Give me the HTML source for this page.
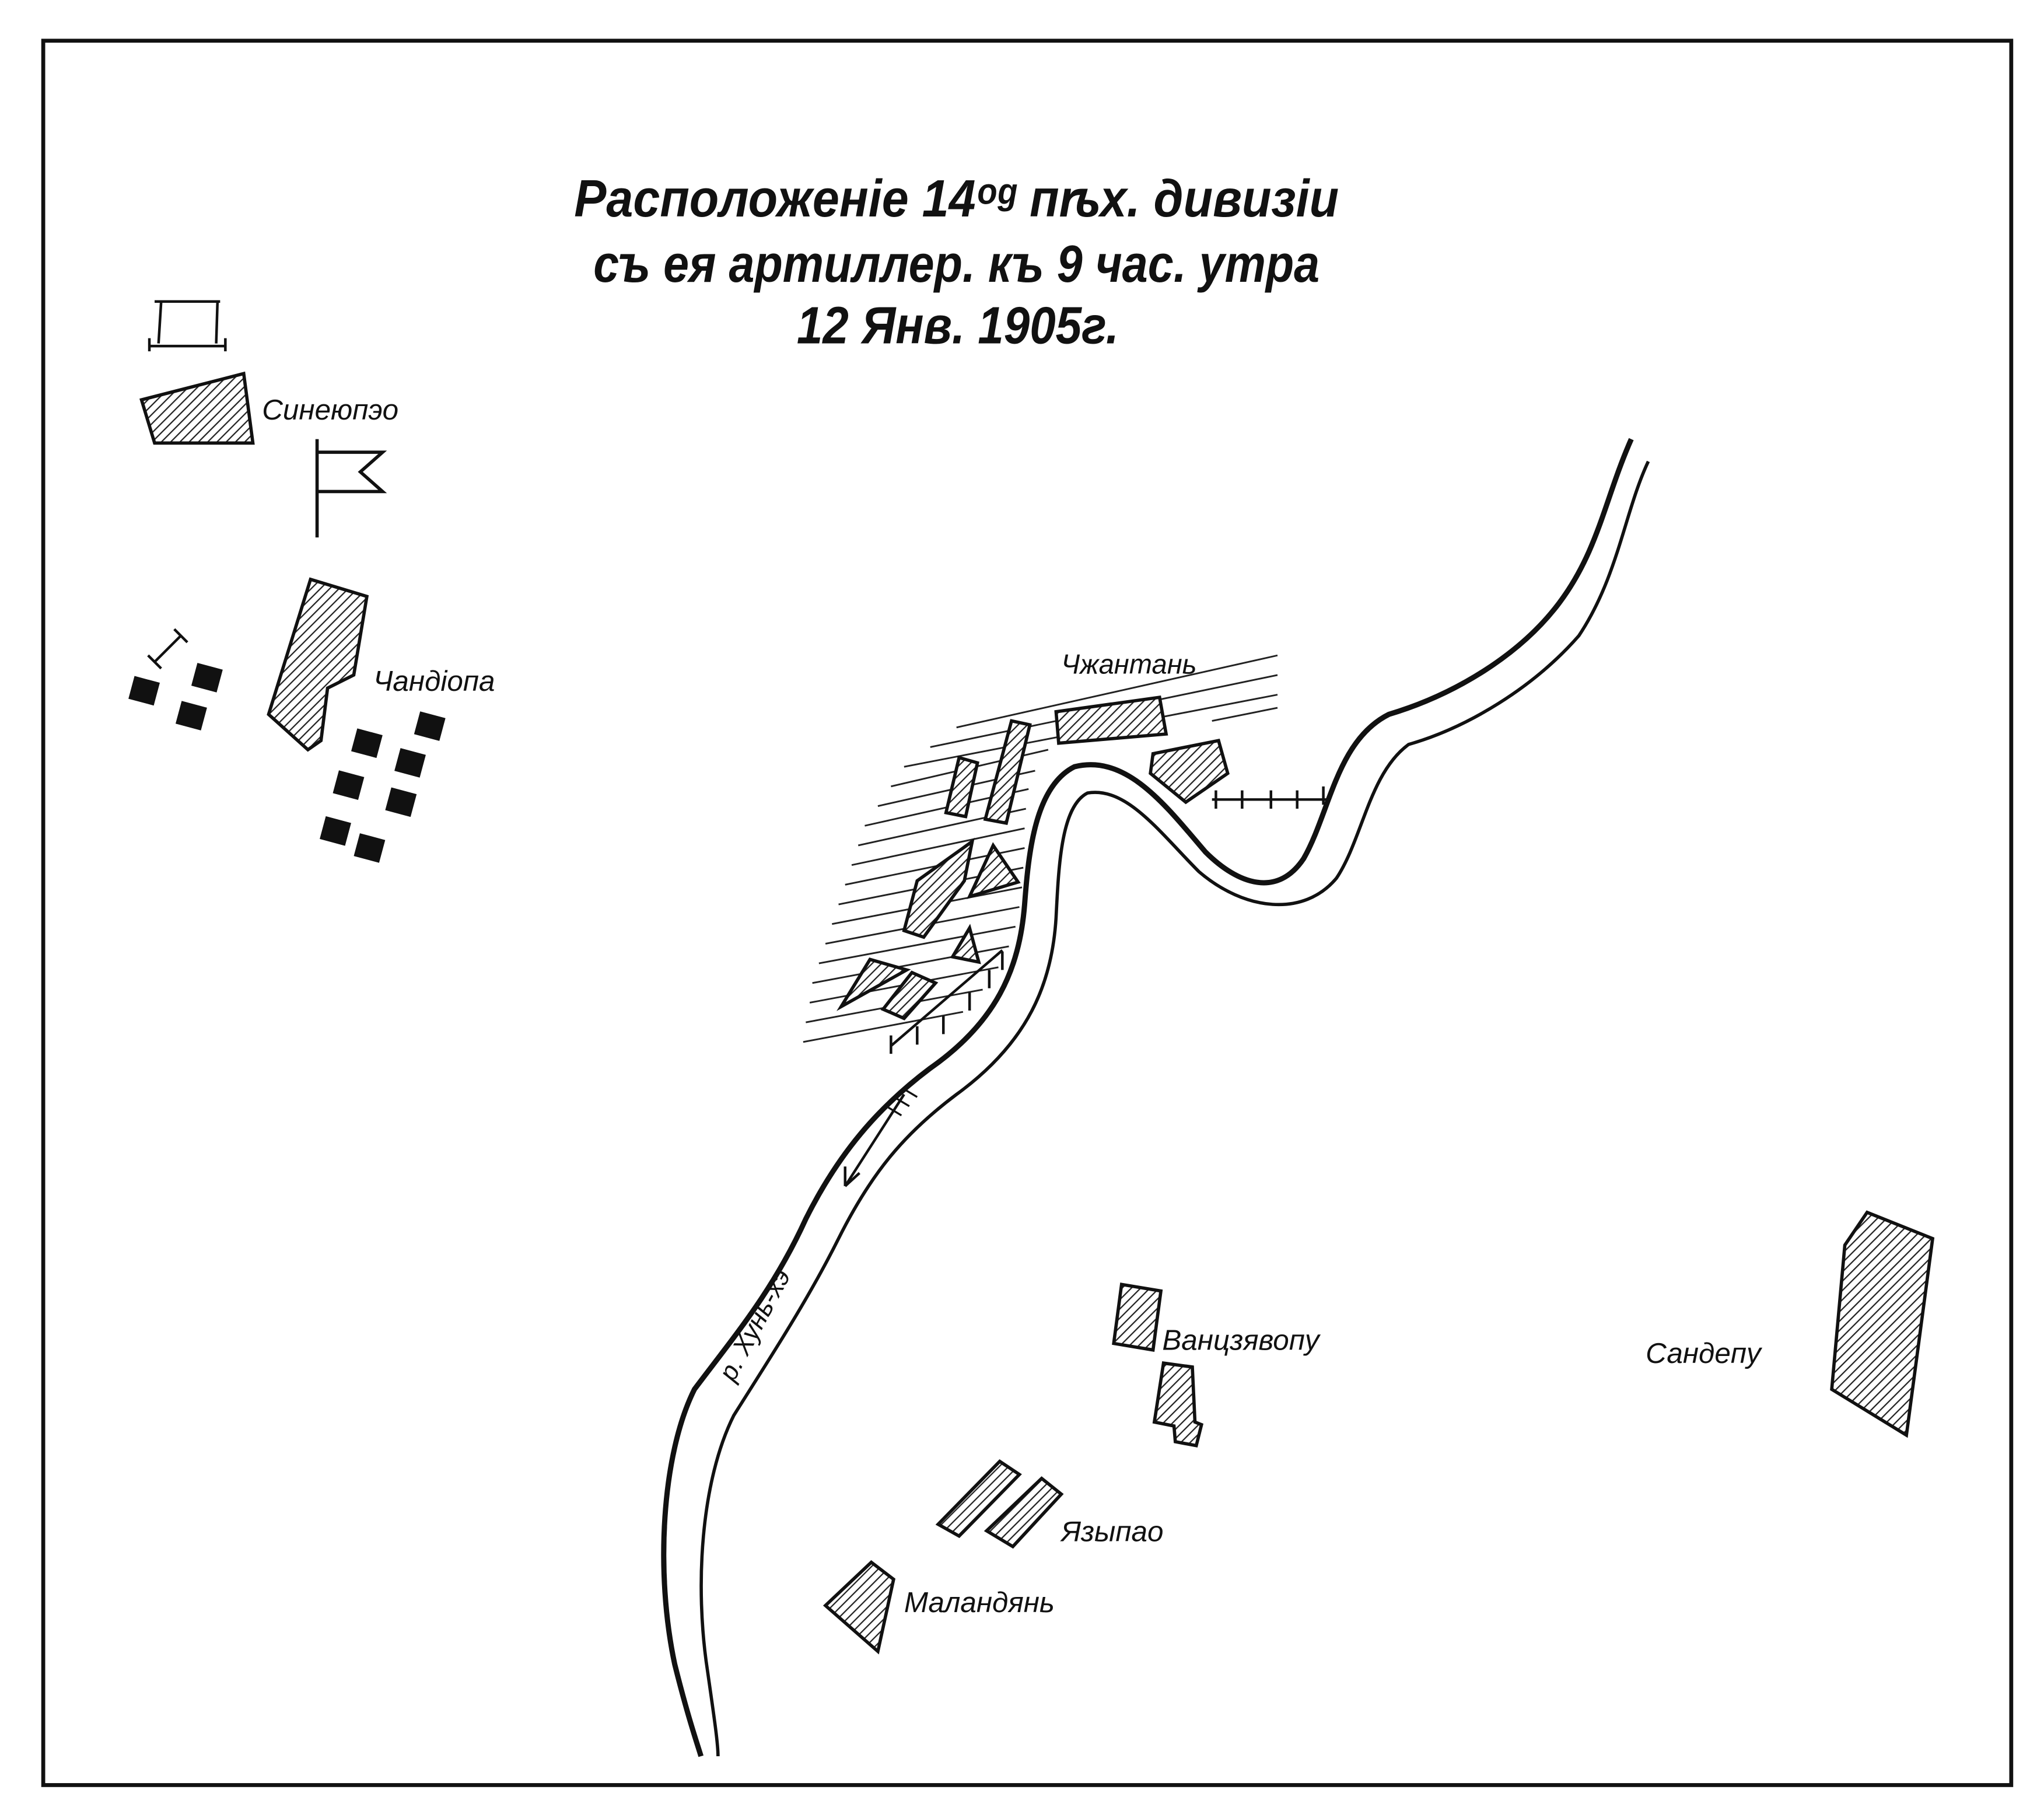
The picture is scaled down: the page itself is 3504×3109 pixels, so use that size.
<!DOCTYPE html>
<html><head><meta charset="utf-8"><style>
html,body{margin:0;padding:0;background:#fff}
svg{display:block}
text{font-family:"Liberation Sans",sans-serif;font-style:italic;fill:#111}
</style></head><body>
<svg width="3504" height="3109" viewBox="0 0 1560 1384" xmlns="http://www.w3.org/2000/svg">
<defs>
<pattern id="h" width="5" height="5" patternUnits="userSpaceOnUse" patternTransform="rotate(45)">
<rect width="5" height="5" fill="#fff"/><line x1="0" y1="0" x2="0" y2="5" stroke="#222" stroke-width="2"/>
</pattern>
</defs>
<rect x="0" y="0" width="1560" height="1384" fill="#fff"/>
<rect x="33" y="31" width="1502" height="1331" fill="none" stroke="#111" stroke-width="3"/>

<g text-anchor="middle" font-weight="bold">
<text x="730" y="165" font-size="40" transform="translate(730,0) scale(0.92,1) translate(-730,0)">Расположеніе 14ᵒᵍ пѣх. дивизіи</text>
<text x="730" y="215" font-size="40" transform="translate(730,0) scale(0.88,1) translate(-730,0)">съ ея артиллер. къ 9 час. утра</text>
<text x="731" y="262" font-size="40" transform="translate(731,0) scale(0.89,1) translate(-731,0)">12 Янв. 1905г.</text>
</g>

<path d="M118 230 H168 M123 230 L121 262 M166 230 L165 262 M114 264 H172 M114 258 V268 M172 258 V268" stroke="#111" stroke-width="2" fill="none"/>
<polygon points="108,305 186,285 193,338 118,338" fill="url(#h)" stroke="#111" stroke-width="2.5"/>
<text x="200" y="320" font-size="22">Синеюпэо</text>
<path d="M242 335 V410 M242 345 H292 L275 360 L292 375 H242" stroke="#111" stroke-width="2.5" fill="none"/>

<polygon points="237,442 280,455 270,515 250,525 245,565 235,572 205,545" fill="url(#h)" stroke="#111" stroke-width="2.5"/>
<text x="285" y="527" font-size="22">Чандіопа</text>

<g fill="#111">
<rect x="100" y="518" width="20" height="18" transform="rotate(15 110 527)"/>
<rect x="148" y="508" width="20" height="18" transform="rotate(15 158 517)"/>
<rect x="136" y="537" width="20" height="18" transform="rotate(15 146 546)"/>
<rect x="270" y="558" width="20" height="18" transform="rotate(15 280 567)"/>
<rect x="318" y="545" width="20" height="18" transform="rotate(15 328 554)"/>
<rect x="303" y="573" width="20" height="18" transform="rotate(15 313 582)"/>
<rect x="256" y="590" width="20" height="18" transform="rotate(15 266 599)"/>
<rect x="296" y="603" width="20" height="18" transform="rotate(15 306 612)"/>
<rect x="246" y="625" width="20" height="18" transform="rotate(15 256 634)"/>
<rect x="272" y="638" width="20" height="18" transform="rotate(15 282 647)"/>
</g>
<path d="M118 505 L138 485 M113 500 L123 510 M133 480 L143 490" stroke="#111" stroke-width="2"/>

<path d="M1245 335 C1225 380 1220 420 1190 460 C1160 500 1110 530 1060 545 C1020 565 1015 620 995 655 C975 685 945 675 920 650 C890 615 860 575 820 585 C790 600 785 650 782 690 C778 740 760 780 710 815 C670 845 640 880 615 930 C590 985 560 1020 530 1060 C505 1110 500 1200 515 1270 C525 1310 532 1330 535 1340" fill="none" stroke="#111" stroke-width="4"/>
<path d="M1258 352 C1240 390 1235 440 1205 485 C1170 525 1120 555 1075 568 C1045 590 1040 640 1020 670 C995 700 950 695 915 665 C885 635 860 600 830 605 C810 615 808 660 806 700 C803 750 785 795 730 835 C690 865 665 895 640 945 C615 995 585 1040 560 1080 C535 1130 530 1210 540 1275 C545 1310 548 1330 548 1340" fill="none" stroke="#111" stroke-width="2.5"/>
<text x="0" y="0" font-size="20" transform="translate(560,1055) rotate(-62)">р. Хунь-хэ</text>
<path d="M690 835 L645 905 M645 905 L645 890 M645 905 L656 895" stroke="#111" stroke-width="2" fill="none"/>
<path d="M678 845 l10 6 M684 838 l10 6 M690 831 l10 6" stroke="#111" stroke-width="1.5"/>

<g stroke="#222" stroke-width="1.3">
<line x1="730" y1="555" x2="975" y2="500"/><line x1="710" y1="570" x2="975" y2="515"/>
<line x1="690" y1="585" x2="975" y2="530"/><line x1="680" y1="600" x2="800" y2="572"/>
<line x1="670" y1="615" x2="790" y2="588"/><line x1="660" y1="630" x2="785" y2="602"/>
<line x1="655" y1="645" x2="783" y2="617"/><line x1="650" y1="660" x2="782" y2="632"/>
<line x1="645" y1="675" x2="782" y2="647"/><line x1="640" y1="690" x2="781" y2="662"/>
<line x1="635" y1="705" x2="780" y2="677"/><line x1="630" y1="720" x2="778" y2="692"/>
<line x1="625" y1="735" x2="775" y2="707"/><line x1="620" y1="750" x2="770" y2="722"/>
<line x1="618" y1="765" x2="762" y2="738"/><line x1="615" y1="780" x2="750" y2="755"/>
<line x1="613" y1="795" x2="735" y2="772"/><line x1="925" y1="550" x2="975" y2="540"/>
</g>
<text x="810" y="514" font-size="21">Чжантань</text>
<g fill="url(#h)" stroke="#111" stroke-width="2.5">
<polygon points="806,543 885,532 890,560 808,567"/>
<polygon points="880,575 930,565 937,590 905,612 878,590"/>
<polygon points="772,550 786,553 768,628 752,625"/>
<polygon points="732,578 746,582 737,623 722,620"/>
<polygon points="742,642 736,672 705,715 690,710 700,672"/>
<polygon points="758,645 777,673 740,684"/>
<polygon points="740,708 747,734 727,730"/>
<polygon points="664,732 692,740 642,768"/>
<polygon points="696,742 714,750 690,777 674,770"/>
</g>
<g stroke="#111" stroke-width="2" fill="none">
<path d="M925 610 H1015 M928 603 v14 M948 603 v14 M970 603 v14 M990 603 v14 M1010 600 v14"/>
<path d="M680 798 L765 725 M680 790 v14 M700 783 v14 M720 775 v14 M740 757 v14 M755 740 v14 M765 726 v14"/>
</g>

<g fill="url(#h)" stroke="#111" stroke-width="2.5">
<polygon points="856,980 886,985 880,1030 850,1025"/>
<polygon points="888,1040 910,1043 912,1085 917,1087 913,1103 897,1100 896,1088 881,1085"/>
<polygon points="1408,950 1425,925 1475,945 1455,1095 1398,1060"/>
<polygon points="763,1115 778,1125 732,1172 716,1163"/>
<polygon points="795,1128 810,1140 773,1180 753,1168"/>
<polygon points="665,1192 682,1205 670,1260 630,1225"/>
</g>
<text x="887" y="1030" font-size="22">Ванцзявопу</text>
<text x="1256" y="1040" font-size="22">Сандепу</text>
<text x="810" y="1176" font-size="22">Языпао</text>
<text x="690" y="1230" font-size="22">Маландянь</text>
</svg>
</body></html>
